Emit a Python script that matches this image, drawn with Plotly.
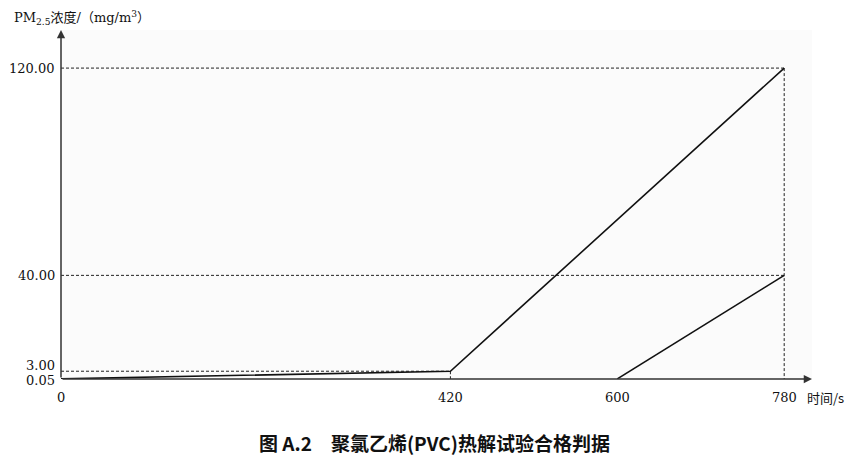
import plotly.graph_objects as go

# Data
time_a = [0, 420, 780]
conc_a = [0.05, 3.00, 120.00]
time_b = [600, 780]
conc_b = [0.05, 40.00]

x_ticks = [0, 420, 600, 780]
x_tick_labels = ["0", "420", "600", "780"]
y_ticks = [0.05, 3.00, 40.00, 120.00]
y_tick_labels = ["0.05", "3.00", "40.00", "120.00"]

# Guide (dashed) reference corners
guide_x = [420, 780, 780]
guide_y = [3.00, 40.00, 120.00]

X_MAX = 810
Y_MAX = 134.7

fig = go.Figure()

dash_style = dict(color="#222222", width=1, dash="3px,2px")
# horizontal guides
for gx, gy in zip(guide_x, guide_y):
    fig.add_trace(go.Scatter(x=[0, gx], y=[gy, gy], mode="lines",
                             line=dash_style, hoverinfo="skip", showlegend=False))
# vertical guides (one per x, up to the highest corner)
vert = {}
for gx, gy in zip(guide_x, guide_y):
    vert[gx] = max(vert.get(gx, 0), gy)
for gx, gy in vert.items():
    fig.add_trace(go.Scatter(x=[gx, gx], y=[gy, 0], mode="lines",
                             line=dash_style, hoverinfo="skip", showlegend=False))

fig.add_trace(go.Scatter(x=time_a, y=conc_a, mode="lines",
                         line=dict(color="#111111", width=1.6), showlegend=False))
fig.add_trace(go.Scatter(x=time_b, y=conc_b, mode="lines",
                         line=dict(color="#111111", width=1.6), showlegend=False))

ann = []
# axes with arrows
ann.append(dict(x=X_MAX, y=0, ax=0, ay=0, xref="x", yref="y", axref="x", ayref="y",
                showarrow=True, arrowhead=2, arrowsize=1.1, arrowwidth=1.5,
                arrowcolor="#333333", text=""))
ann.append(dict(x=0, y=Y_MAX, ax=0, ay=0, xref="x", yref="y", axref="x", ayref="y",
                showarrow=True, arrowhead=2, arrowsize=1.1, arrowwidth=1.5,
                arrowcolor="#333333", text=""))

tick_font = dict(family="DejaVu Serif, Liberation Serif, serif", size=13, color="#111111")
y_shifts = {0.05: -2, 3.00: 6}
for v, lab in zip(y_ticks, y_tick_labels):
    ann.append(dict(x=0, y=v, xref="x", yref="y", text=lab, showarrow=False,
                    xanchor="right", yanchor="middle", xshift=-4,
                    yshift=y_shifts.get(v, 0), font=tick_font))
for v, lab in zip(x_ticks, x_tick_labels):
    ann.append(dict(x=v, y=0, xref="x", yref="y", text=lab, showarrow=False,
                    xanchor="center", yanchor="middle", yshift=-18, font=tick_font))

ann.append(dict(x=X_MAX, y=0, xref="x", yref="y", text="时间/s", showarrow=False,
                xanchor="left", yanchor="middle", xshift=-7, yshift=-18,
                font=dict(family="Noto Sans CJK SC, Liberation Serif", size=13, color="#111111")))
ann.append(dict(x=-49/751, y=1 + 12/349, xref="paper", yref="paper",
                text="PM<sub>2.5</sub>浓度/（mg/m<sup>3</sup>）", showarrow=False,
                xanchor="left", yanchor="middle",
                font=dict(family="DejaVu Serif, Noto Sans CJK SC", size=13, color="#111111")))
ann.append(dict(x=(434-61)/751, y=-(442-379)/349, xref="paper", yref="paper",
                text="<b>图 A.2　聚氯乙烯(PVC)热解试验合格判据</b>", showarrow=False,
                xanchor="center", yanchor="middle",
                font=dict(family="Noto Sans CJK SC", size=19, color="#111111")))

fig.update_layout(
    width=849, height=453,
    margin=dict(l=53, r=45, t=22, b=82),
    paper_bgcolor="white", plot_bgcolor="#fbfbfb",
    xaxis=dict(range=[0, X_MAX], showgrid=False, zeroline=False, showline=False,
               showticklabels=False, ticks=""),
    yaxis=dict(range=[0, Y_MAX], showgrid=False, zeroline=False, showline=False,
               showticklabels=False, ticks=""),
    annotations=ann,
    showlegend=False,
)

fig.write_html("out.html")
